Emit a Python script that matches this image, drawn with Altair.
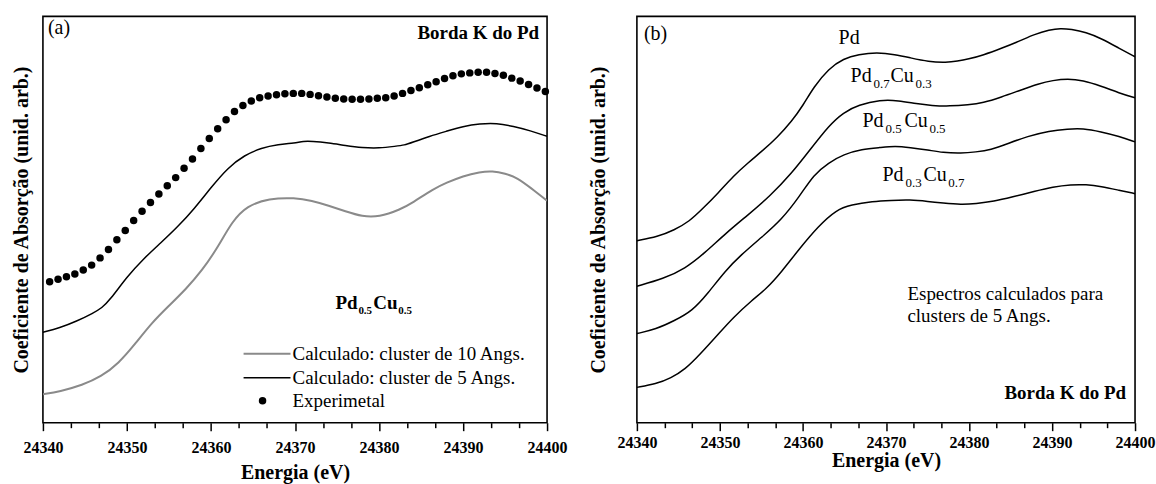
import altair as alt
import pandas as pd

FONT = "Liberation Serif"

# ---------------- Panel (a): Pd0.5Cu0.5 ----------------
exp_E = [round(24340.8 + i, 1) for i in range(60)]
exp_y = [142.3, 144.7, 147.3, 150.0, 154.0, 159.0, 166.3, 174.7, 184.7, 194.0,
         204.0, 213.3, 222.3, 230.7, 239.0, 247.3, 256.7, 266.0, 276.7, 286.7,
         296.7, 305.7, 314.0, 320.0, 324.7, 328.0, 329.7, 331.0, 332.0, 332.3,
         332.3, 331.3, 330.0, 328.7, 327.3, 326.7, 326.3, 326.3, 326.7, 327.3,
         328.0, 329.7, 332.3, 335.3, 338.0, 341.0, 344.0, 347.3, 350.0, 352.0,
         353.0, 353.7, 353.7, 352.3, 350.7, 347.7, 344.7, 341.3, 337.7, 334.3]

blk_E = [24340, 24342, 24344, 24346, 24347, 24348, 24350, 24352, 24354, 24356, 24358, 24360,
         24362, 24364, 24366, 24368, 24370, 24371, 24372, 24374, 24376, 24378, 24380, 24382,
         24383, 24384, 24386, 24388, 24390, 24392, 24394, 24396, 24398, 24400]
blk_y = [91.3, 95.7, 102.3, 110.7, 115.7, 124.0, 147.3, 165.7, 181.3, 197.3, 215.7, 237.3,
         257.3, 270.0, 277.3, 280.7, 282.3, 284.0, 284.0, 282.3, 279.7, 277.5, 277.0, 279.0,
         280.0, 283.0, 289.0, 294.0, 299.0, 301.7, 302.3, 299.0, 294.7, 289.0]

gry_E = [24340, 24342, 24344.7, 24346.9, 24349, 24351, 24353, 24355, 24357, 24358.9, 24360.9,
         24362.5, 24364.3, 24366.9, 24370, 24372, 24374, 24376, 24378, 24380, 24382.5, 24384,
         24386.5, 24388, 24390, 24392, 24393.5, 24395, 24396.5, 24398, 24400]
gry_y = [28.7, 31.3, 38.0, 46.3, 59.7, 79.7, 101.3, 118.0, 134.7, 153.0, 178.0,
         203.0, 219.0, 226.3, 227.0, 224.0, 219.0, 213.3, 208.0, 207.5, 215.0, 222.0,
         236.0, 242.0, 249.0, 253.0, 254.0, 251.5, 247.0, 237.3, 224.0]

# ---------------- Panel (b): calculated spectra, 5 Angs clusters ----------------
pd_E = [24340, 24342.5, 24344.5, 24346.3, 24348, 24349.8, 24351.6, 24353.4, 24355.1, 24356.9,
        24358.7, 24360, 24361.3, 24363.1, 24364.9, 24366.7, 24368.9, 24371.1, 24372.9, 24375.1,
        24377.3, 24378.6, 24379.9, 24381.7, 24383.9, 24386.1, 24387.9, 24389.7, 24391.0, 24392.3,
        24394.1, 24395.9, 24398.1, 24400]
pd_y = [180.3, 184.3, 191.0, 199.3, 212.7, 227.7, 244.3, 257.7, 269.3, 282.7,
        299.3, 314.3, 332.7, 351.0, 361.0, 365.0, 367.0, 365.0, 361.7, 357.7,
        357.0, 358.3, 360.3, 364.3, 371.0, 378.3, 385.0, 389.3, 391.0, 390.0,
        387.0, 381.0, 371.0, 362.7]

p73_E = [24340, 24343.2, 24345.8, 24348.1, 24350.7, 24353.4, 24356, 24358.7, 24360.9, 24363.1,
         24364.9, 24366.7, 24369.3, 24371.5, 24373.7, 24375.5, 24377.7, 24379.9, 24381.7, 24383.9,
         24386.1, 24388.4, 24390.1, 24391.9, 24393.7, 24395.9, 24398.1, 24400]
p73_y = [135.3, 142.7, 152.7, 167.7, 187.7, 206.0, 224.3, 247.7, 271.0, 294.3,
         307.7, 315.0, 320.0, 319.3, 316.0, 314.3, 313.7, 315.0, 317.0, 322.7,
         329.3, 336.0, 339.3, 341.0, 339.3, 333.7, 326.7, 322.0]

p55_E = [24340, 24342.3, 24344.5, 24346.7, 24348.5, 24350.7, 24352.5, 24355.1, 24357.4, 24359.6,
         24361.3, 24363.1, 24364.9, 24367.1, 24369.3, 24371.1, 24372.9, 24375.1, 24376.8, 24379.1,
         24380.8, 24382.6, 24384.8, 24387, 24389.7, 24391.9, 24393.7, 24395.9, 24398.1, 24400]
p55_y = [88.3, 92.7, 101.0, 111.0, 127.7, 151.0, 166.0, 184.3, 201.0, 224.3,
         246.0, 257.7, 266.0, 271.0, 272.7, 274.3, 272.7, 270.3, 267.7, 267.0,
         268.3, 270.3, 277.0, 283.7, 289.3, 291.0, 291.7, 288.3, 283.7, 278.3]

p37_E = [24340, 24342.3, 24344.1, 24345.8, 24347.6, 24349.8, 24351.6, 24353.8, 24355.6, 24357.4,
         24359.6, 24361.8, 24364, 24365.8, 24368.4, 24370.6, 24372.9, 24375.1, 24376.8, 24379.1,
         24380.8, 24383, 24385.2, 24387.9, 24390.1, 24392.3, 24394.1, 24395.9, 24398.1, 24400]
p37_y = [35.0, 38.3, 44.3, 52.7, 67.7, 87.7, 104.3, 121.0, 132.7, 149.3,
         172.7, 194.3, 211.0, 216.0, 219.3, 220.3, 221.0, 219.3, 217.7, 216.0,
         217.0, 219.3, 223.7, 229.3, 233.7, 236.0, 236.0, 234.3, 230.3, 227.0]

X_TICKS = [round(24340 + i * 10 / 3, 4) for i in range(19)]
Y_TITLE = "Coeficiente de Absorção (unid. arb.)"
X_TITLE = "Energia (eV)"

one = pd.DataFrame({"a": [0]})


def xaxis(label_pad, title_pad):
    return alt.Axis(
        values=X_TICKS, format="d", title=X_TITLE,
        labelExpr="datum.value % 10 === 0 ? datum.label : ''",
        tickSize={"condition": {"test": "datum.value % 10 === 0", "value": 8}, "value": 5},
        labelPadding=label_pad, titlePadding=title_pad, labelOverlap=False,
        labelFlush=False, domain=False, grid=False,
    )


def yaxis(title_pad):
    return alt.Axis(title=Y_TITLE, ticks=False, labels=False, domain=False, grid=False,
                    titlePadding=title_pad)


def line_layer(E, v, xenc, yenc, color, width):
    df = pd.DataFrame({"E": E, "v": v})
    return alt.Chart(df).mark_line(color=color, strokeWidth=width, interpolate="basis",
                                   clip=True).encode(x=xenc, y=yenc)


def txt(s, x, y, size=19, bold=False, align="left", baseline="alphabetic"):
    return alt.Chart(one).mark_text(
        text=s, font=FONT, fontSize=size, fontWeight="bold" if bold else "normal",
        align=align, baseline=baseline, color="black",
    ).encode(x=alt.value(x), y=alt.value(y))


# ---------- panel (a) ----------
xa = alt.X("E:Q", scale=alt.Scale(domain=[24340, 24400], nice=False, zero=False),
           axis=xaxis(9, 7))
ya = alt.Y("v:Q", scale=alt.Scale(domain=[0, 410], nice=False, zero=False), axis=yaxis(11))

exp_layer = alt.Chart(pd.DataFrame({"E": exp_E, "v": exp_y})).mark_circle(
    color="black", size=56, opacity=1).encode(x=xa, y=ya)

legend = [
    alt.Chart(one).mark_rule(color="#8a8a8a", strokeWidth=2).encode(
        x=alt.value(201), x2=alt.value(248), y=alt.value(338)),
    alt.Chart(one).mark_rule(color="black", strokeWidth=1.6).encode(
        x=alt.value(201), x2=alt.value(248), y=alt.value(362)),
    alt.Chart(one).mark_circle(color="black", size=56, opacity=1).encode(
        x=alt.value(220), y=alt.value(385)),
    txt("Calculado: cluster de 10 Angs.", 250, 338, baseline="middle"),
    txt("Calculado: cluster de 5 Angs.", 250, 362, baseline="middle"),
    txt("Experimetal", 250, 385, baseline="middle"),
]

texts_a = [
    txt("(a)", 5, 12, size=20, baseline="middle"),
    txt("Borda K do Pd", 497, 23, bold=True, align="right"),
    txt("Pd", 293, 293, bold=True),
    txt("0.5", 316, 298, size=11, bold=True),
    txt("Cu", 331, 293, bold=True),
    txt("0.5", 356, 298, size=11, bold=True),
]

panel_a = alt.layer(
    line_layer(gry_E, gry_y, xa, ya, "#8a8a8a", 2.0),
    line_layer(blk_E, blk_y, xa, ya, "black", 1.5),
    exp_layer,
    *legend,
    *texts_a,
).properties(width=505, height=407)

# ---------- panel (b) ----------
xb = alt.X("E:Q", scale=alt.Scale(domain=[24340, 24400], nice=False, zero=False),
           axis=xaxis(4, 0))
yb = alt.Y("v:Q", scale=alt.Scale(domain=[0, 402.7], nice=False, zero=False), axis=yaxis(28))

texts_b = [
    txt("(b)", 7, 18, size=20, baseline="middle"),
    txt("Pd", 202, 28, size=20),
    txt("Pd", 214, 66, size=20), txt("0.7", 237, 72, size=13),
    txt("Cu", 254, 66, size=20), txt("0.3", 279, 72, size=13),
    txt("Pd", 226, 111, size=20), txt("0.5", 249, 117, size=13),
    txt("Cu", 268, 111, size=20), txt("0.5", 293, 117, size=13),
    txt("Pd", 246, 165, size=20), txt("0.3", 269, 171, size=13),
    txt("Cu", 287, 165, size=20), txt("0.7", 312, 171, size=13),
    txt("Espectros calculados para", 271, 278, baseline="middle"),
    txt("clusters de 5 Angs.", 271, 300, baseline="middle"),
    txt("Borda K do Pd", 490, 377, bold=True, align="right", baseline="middle"),
]

panel_b = alt.layer(
    line_layer(pd_E, pd_y, xb, yb, "black", 1.5),
    line_layer(p73_E, p73_y, xb, yb, "black", 1.5),
    line_layer(p55_E, p55_y, xb, yb, "black", 1.5),
    line_layer(p37_E, p37_y, xb, yb, "black", 1.5),
    *texts_b,
).properties(width=499, height=407)

chart = alt.hconcat(panel_a, panel_b, spacing=90, bounds="flush").properties(
    padding={"left": 11, "top": 15, "right": 0, "bottom": 0},
    background="white",
).configure_view(
    stroke="black", strokeWidth=1.6,
).configure_axis(
    labelFont=FONT, labelFontSize=16, labelFontWeight="bold", labelColor="black",
    titleFont=FONT, titleFontSize=20, titleFontWeight="bold", titleColor="black",
    tickColor="black", tickWidth=1.5,
)

chart.save("out.html", embed_options={"renderer": "svg", "actions": False})
